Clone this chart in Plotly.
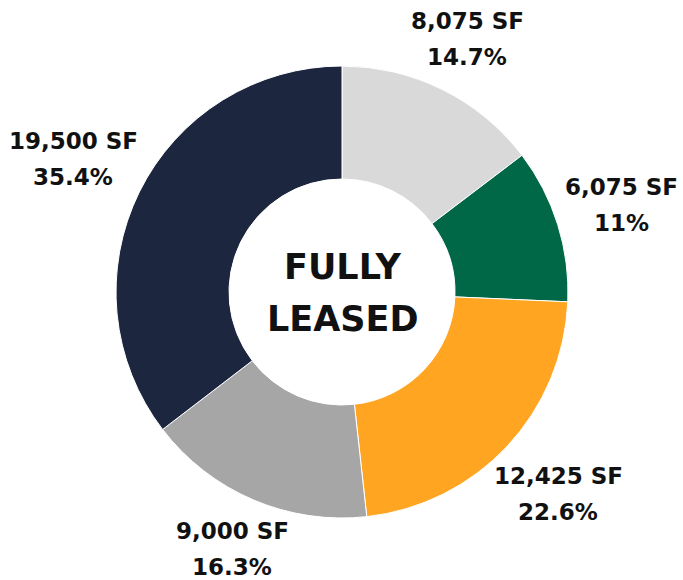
import math
import plotly.graph_objects as go

areas = [8075, 6075, 12425, 9000, 19500]
area_labels = ["8,075 SF", "6,075 SF", "12,425 SF", "9,000 SF", "19,500 SF"]
pct_labels = ["14.7%", "11%", "22.6%", "16.3%", "35.4%"]
colors = ["#d9d9d9", "#006747", "#ffa521", "#a6a6a6", "#1c263f"]
center_lines = ["FULLY", "LEASED"]

W, H = 683, 580
cx, cy, R = 342, 292, 226      # pie centre / radius in figure pixels
FONT = "DejaVu Sans"
LABEL_SIZE = 23
CENTER_SIZE = 35
LINE_GAP = 18                   # half distance between the two label lines
CHAR_HALF_W, HALF_H, GAP = 6.7, 28, 7

fig = go.Figure(go.Pie(
    values=areas,
    textinfo="none",
    hole=0.5,
    sort=False,
    direction="clockwise",
    rotation=0,
    marker=dict(colors=colors, line=dict(color="white", width=1)),
    domain=dict(x=[(cx - R) / W, (cx + R) / W], y=[(H - cy - R) / H, (H - cy + R) / H]),
    showlegend=False,
    hoverinfo="none",
))

annotations = []
total = sum(areas)
cum = 0.0
for v, a_lab, p_lab in zip(areas, area_labels, pct_labels):
    mid = (cum + v / 2) / total
    cum += v
    th = 2 * math.pi * mid
    dx, dy = math.sin(th), -math.cos(th)
    half_w = CHAR_HALF_W * len(a_lab)
    ext = abs(dx) * half_w + abs(dy) * HALF_H
    r = R + GAP + ext
    px, py = cx + r * dx, cy + r * dy
    for line, off in ((a_lab, -LINE_GAP), (p_lab, LINE_GAP)):
        annotations.append(dict(
            text=f"<b>{line}</b>", x=px / W, y=(H - (py + off)) / H,
            xref="paper", yref="paper", showarrow=False,
            xanchor="center", yanchor="middle",
            font=dict(family=FONT, size=LABEL_SIZE, color="#111111"),
        ))

for line, off in zip(center_lines, (-25, 27)):
    annotations.append(dict(
        text=f"<b>{line}</b>", x=cx / W, y=(H - (cy + off)) / H,
        xref="paper", yref="paper", showarrow=False,
        xanchor="center", yanchor="middle",
        font=dict(family=FONT, size=CENTER_SIZE, color="#111111"),
    ))

fig.update_layout(
    width=W, height=H,
    margin=dict(l=0, r=0, t=0, b=0),
    paper_bgcolor="white",
    plot_bgcolor="white",
    annotations=annotations,
)

fig.write_html(
    "out.html",
    config={"displayModeBar": False},
    post_script="document.body.style.margin='0';document.body.style.overflow='hidden';",
)
